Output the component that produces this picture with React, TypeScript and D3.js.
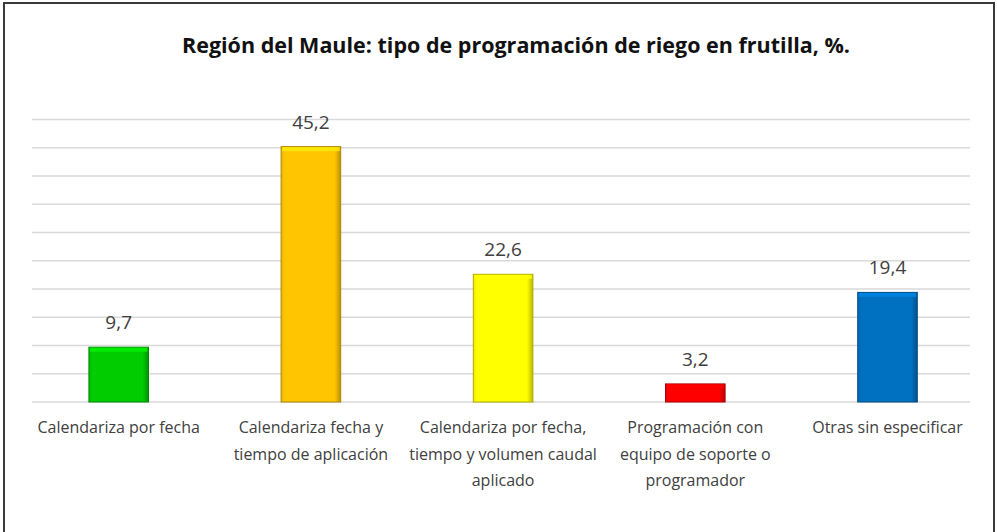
import React from "react";
import * as d3 from "d3";

const title = "Región del Maule: tipo de programación de riego en frutilla, %.";
const categories = [
  "Calendariza por fecha",
  "Calendariza fecha y tiempo de aplicación",
  "Calendariza por fecha, tiempo y volumen caudal aplicado",
  "Programación con equipo de soporte o programador",
  "Otras sin especificar",
];
const categoryLines = [
  ["Calendariza por fecha"],
  ["Calendariza fecha y", "tiempo de aplicación"],
  ["Calendariza por fecha,", "tiempo y volumen caudal", "aplicado"],
  ["Programación con", "equipo de soporte o", "programador"],
  ["Otras sin especificar"],
];
const values = [9.7, 45.2, 22.6, 3.2, 19.4];
const valueLabels = ["9,7", "45,2", "22,6", "3,2", "19,4"];
const colors = ["#00CC00", "#FFC600", "#FFFF00", "#FF0000", "#0070C0"];
const yTicks = [0, 5, 10, 15, 20, 25, 30, 35, 40, 45, 50];

const W = 997;
const H = 532;

export default function App() {
  const y = d3.scaleLinear().domain([0, 50]).range([402, 119.5]);
  const x = d3
    .scaleBand<string>()
    .domain(categories)
    .range([22.6, 983.6])
    .paddingInner(0.69)
    .paddingOuter(0.345);
  const font = "'Open Sans', 'DejaVu Sans', sans-serif";

  return (
    <div style={{ position: "absolute", left: 0, top: 0 }}>
      <svg width={W} height={H} style={{ display: "block", background: "#fff" }}>
        <defs>
          {colors.map((c, i) => {
            const dark = d3.color(c)!.darker(0.9).formatHex();
            const mid = d3.color(c)!.darker(0.25).formatHex();
            return (
              <linearGradient key={i} id={`g${i}`} x1="0" x2="1" y1="0" y2="0">
                <stop offset="0" stopColor={mid} />
                <stop offset="0.06" stopColor={c} />
                <stop offset="0.9" stopColor={c} />
                <stop offset="1" stopColor={dark} />
              </linearGradient>
            );
          })}
        </defs>
        <rect x={4} y={3} width={990} height={560} fill="none" stroke="#3a3a3a" strokeWidth={2} />
        <text
          x={516}
          y={53}
          textAnchor="middle"
          fontFamily={font}
          fontWeight="bold"
          fontSize={22}
          fill="#111"
          textLength={668}
          lengthAdjust="spacingAndGlyphs"
        >
          {title}
        </text>
        {yTicks.map((t) => (
          <line key={t} x1={32} x2={970} y1={y(t)} y2={y(t)} stroke="#d9d9d9" strokeWidth={1.3} />
        ))}
        {categories.map((c, i) => {
          const bx = x(c)!;
          const bw = x.bandwidth();
          const top = y(values[i]);
          const h = y(0) - top;
          const col = d3.color(colors[i])!;
          return (
            <g key={c}>
              <rect x={bx} y={top} width={bw} height={h} fill={`url(#g${i})`} stroke={col.darker(1.1).formatHex()} strokeWidth={1} />
              <rect x={bx + 1} y={top + 0.5} width={bw - 2} height={Math.min(4, h - 1)} fill={col.brighter(0.5).formatHex()} opacity={0.8} />
              <text
                x={bx + bw / 2}
                y={top - 18}
                textAnchor="middle"
                fontFamily={font}
                fontSize={19}
                fill="#404040"
              >
                {valueLabels[i]}
              </text>
              {categoryLines[i].map((ln, j) => (
                <text
                  key={j}
                  x={bx + bw / 2}
                  y={433 + j * 26.5}
                  textAnchor="middle"
                  fontFamily={font}
                  fontSize={16}
                  fill="#404040"
                >
                  {ln}
                </text>
              ))}
            </g>
          );
        })}
      </svg>
    </div>
  );
}
